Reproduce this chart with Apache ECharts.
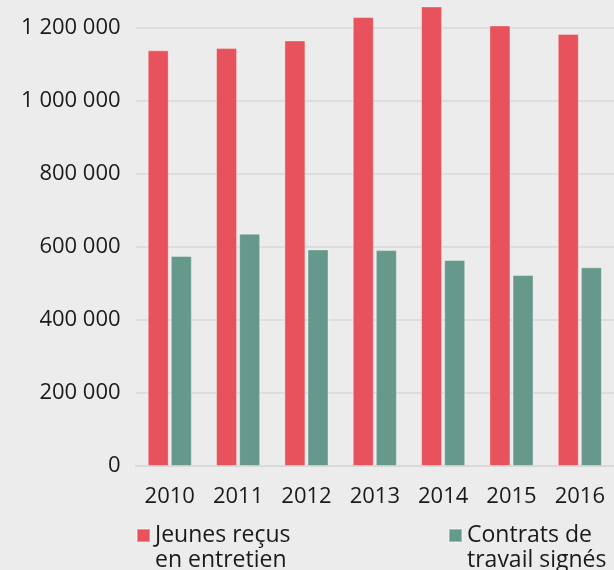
<!DOCTYPE html>
<html>
<head>
<meta charset="utf-8">
<title>Jeunes reçus / contrats signés</title>
<script src="https://cdn.jsdelivr.net/npm/echarts@6/dist/echarts.min.js"></script>
<style>
	* { margin: 0; padding: 0; }
	html, body { width: 614px; height: 570px; background: #ececec; }
	#main { width: 614px; height: 570px; }
</style>
</head>
<body>
<div id="main"></div>
<script type="text/javascript">
	// données
	var years = ['2010', '2011', '2012', '2013', '2014', '2015', '2016'];
	var jeunesRecus = [1138000, 1144000, 1165000, 1229000, 1258000, 1206000, 1183000];
	var contratsSignes = [575000, 636000, 593000, 591000, 564000, 523000, 544000];
	var nameJeunes = 'Jeunes reçus\nen entretien';
	var nameContrats = 'Contrats de\ntravail signés';

	var RED = '#e8525c';
	var GREEN = '#66998b';
	var FONT = 'Open Sans';

	function fmt(v) {
		return String(v).replace(/\B(?=(\d{3})+(?!\d))/g, ' ');
	}

	var myChart = echarts.init(document.getElementById('main'));

	function legendAt(left, name) {
		return {
			left: left,
			top: 498,
			padding: 0,
			icon: 'rect',
			itemWidth: 13,
			itemHeight: 13,
			itemGap: 5,
			selectedMode: false,
			data: [name],
			// ligne vide en tête : la première ligne reste alignée sur le carré
			formatter: function (n) { return ' \n' + n; },
			textStyle: {
				fontFamily: FONT,
				fontSize: 23,
				color: '#1a1a1a',
				lineHeight: 25
			}
		};
	}

	var option = {
		backgroundColor: '#ececec',
		animation: false,
		legend: [legendAt(136, nameJeunes), legendAt(448, nameContrats)],
		grid: {
			left: 135.6,
			right: -7.4,
			top: 2.1,
			bottom: 104,
			containLabel: false
		},
		xAxis: {
			type: 'category',
			data: years,
			axisLine: { show: true, lineStyle: { color: '#d6d6d6', width: 1.5 } },
			axisTick: { show: false },
			axisLabel: {
				margin: 20,
				fontFamily: FONT,
				fontSize: 22,
				color: '#1a1a1a'
			}
		},
		yAxis: {
			type: 'value',
			min: 0,
			max: 1270000,
			interval: 200000,
			axisLine: { show: false },
			axisTick: { show: false },
			splitLine: { showMaxLine: false, lineStyle: { color: '#d9d9d9', width: 1.5 } },
			axisLabel: {
				margin: 15,
				showMaxLabel: false,
				fontFamily: FONT,
				fontSize: 22,
				color: '#1a1a1a',
				formatter: fmt
			}
		},
		series: [{
			name: nameJeunes,
			type: 'bar',
			barWidth: 21,
			barGap: '10%',
			itemStyle: { color: RED, borderColor: 'rgba(255,255,255,0.35)', borderWidth: 1 },
			data: jeunesRecus
		}, {
			name: nameContrats,
			type: 'bar',
			barWidth: 21,
			barGap: '10%',
			itemStyle: { color: GREEN, borderColor: 'rgba(255,255,255,0.35)', borderWidth: 1 },
			data: contratsSignes
		}]
	};

	myChart.setOption(option);
</script>
</body>
</html>
